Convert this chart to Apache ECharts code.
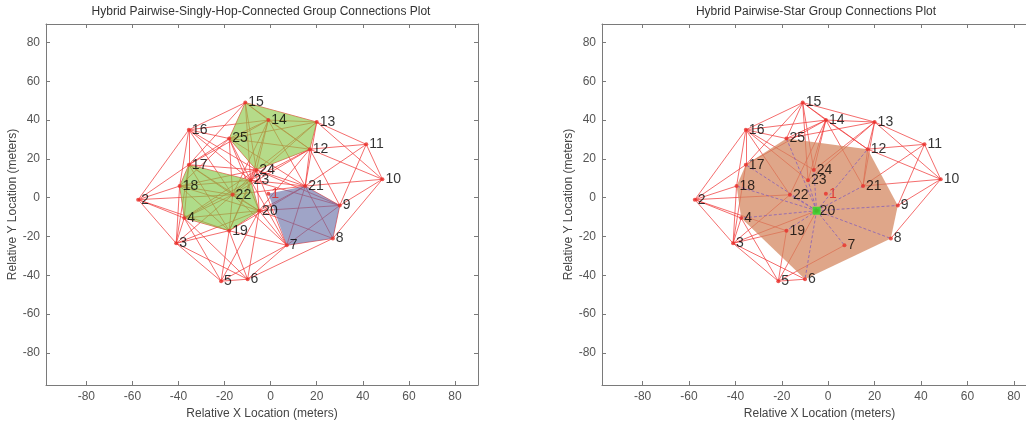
<!DOCTYPE html>
<html><head><meta charset="utf-8">
<script src="https://cdn.jsdelivr.net/npm/echarts@6/dist/echarts.min.js"></script>
<style>html,body{margin:0;padding:0;background:#fff;overflow:hidden}#c{width:1026px;height:423px}</style>
</head><body><div id="c"></div>
<script>
// ---- data ----
const nodeIds = [1,2,3,4,5,6,7,8,9,10,11,12,13,14,15,16,17,18,19,20,21,22,23,24,25];
const nodeX = [-1,-57.5,-41,-37.5,-21.5,-10,7,27,30,48.5,41.5,17,20,-1,-11,-35.5,-35.5,-39.5,-18,-5,15,-16.5,-8.7,-6.2,-18];
const nodeY = [2,-1,-23.5,-10.5,-43,-42,-24.5,-21,-4,9.5,27.5,25,39,40,49,35,17,6,-17,-6.7,6,1.5,9,14.3,30.5];
const xTicks = [-80,-60,-40,-20,0,20,40,60,80];
const yTicks = [-80,-60,-40,-20,0,20,40,60,80];
const titleLeft = 'Hybrid Pairwise-Singly-Hop-Connected Group Connections Plot';
const titleRight = 'Hybrid Pairwise-Star Group Connections Plot';
const xName = 'Relative X Location (meters)';
const yName = 'Relative Y Location (meters)';
const leftEdges = [
 [2,3],[2,4],[2,16],[2,17],[2,18],[2,19],[2,22],
 [3,4],[3,5],[3,6],[3,17],[3,18],[3,19],[3,20],[3,22],
 [4,5],[4,6],[4,17],[4,18],[4,19],[4,20],[4,22],[4,23],[4,24],
 [5,6],[5,7],[5,19],[5,20],
 [6,7],[6,8],[6,19],[6,20],
 [7,8],[7,9],[7,19],[7,20],[7,21],[7,22],[7,23],[7,24],
 [8,9],[8,10],[8,20],[8,21],
 [9,10],[9,11],[9,12],[9,20],[9,21],[9,23],[9,24],
 [10,11],[10,12],[10,13],[10,21],
 [11,12],[11,13],[11,21],
 [12,13],[12,14],[12,15],[12,20],[12,21],[12,22],[12,23],[12,24],[12,25],
 [13,14],[13,15],[13,21],[13,23],[13,24],[13,25],
 [14,15],[14,16],[14,17],[14,21],[14,22],[14,23],[14,24],[14,25],
 [15,16],[15,17],[15,23],[15,24],[15,25],
 [16,17],[16,18],[16,22],[16,23],[16,24],[16,25],
 [17,18],[17,19],[17,20],[17,22],[17,23],[17,24],[17,25],
 [18,19],[18,20],[18,22],[18,23],[18,24],[18,25],
 [19,20],[19,21],[19,22],[19,23],[19,24],
 [20,21],[20,22],[20,23],[20,24],[20,25],
 [21,22],[21,23],[21,24],[21,25],
 [22,23],[22,24],[22,25],[23,24],[23,25],[24,25]
];
const rightEdges = [
 [2,3],[2,4],[2,16],[2,17],[2,18],[2,19],[2,22],
 [3,4],[3,5],[3,6],[3,17],[3,18],[3,19],[3,20],[3,22],
 [4,5],[5,6],[5,7],[5,19],[5,20],
 [8,10],[9,10],[9,11],
 [10,11],[10,12],[10,13],[10,21],
 [11,12],[11,13],[11,21],[12,21],
 [12,13],[12,14],[12,15],
 [13,14],[13,15],[13,21],[13,23],[13,24],[13,25],
 [14,15],[14,16],[14,17],[14,21],[14,22],[14,23],[14,24],[14,25],
 [15,16],[15,17],[15,23],[15,24],[15,25],
 [16,17],[16,18],[16,22],[16,23],[16,24],[16,25]
];
const starHub = 20;
const starMembers = [4,6,7,8,9,12,17,18,19,21,22,23,24,25];
const leftGroups = [[15,13,12,24,25],[17,23,20,19,4,18],[1,21,9,8,7]];
const leftGroupColors = ['rgba(140,198,70,0.64)','rgba(130,200,70,0.64)','rgba(100,108,165,0.62)'];
const rightGroups = [[25,12,9,8,6,4,18,17]];
const rightGroupColors = ['rgba(210,132,92,0.72)'];

// ---- chart ----
const pt = id => [nodeX[id-1], nodeY[id-1]];
const axisCol = '#7a7a7a';
const font = 'Liberation Sans, Arial, sans-serif';
const grids = [
  {left:46, top:24, width:432, height:361, outerBoundsMode:'none', containLabel:false},
  {left:602, top:24, width:435, height:361, outerBoundsMode:'none', containLabel:false}
];
const xAxes = [], yAxes = [];
grids.forEach((g,i)=>{
  const common = {type:'value', gridIndex:i, min:-97.5, max:90, splitLine:{show:false},
    axisLine:{show:true, onZero:false, lineStyle:{color:axisCol, width:1}},
    axisTick:{show:true, inside:true, length:4, customValues:xTicks, lineStyle:{color:axisCol}}};
  xAxes.push(Object.assign({}, common, {position:'bottom',
    axisLabel:{show:true, customValues:xTicks, color:'#555', fontSize:12, fontFamily:font, margin:6},
    name:xName, nameLocation:'middle', nameGap:21, nameTextStyle:{color:'#444', fontSize:12, fontFamily:font}}));
  xAxes.push(Object.assign({}, common, {position:'top', axisLabel:{show:false}}));
  const cy = {type:'value', gridIndex:i, min:-96.5, max:89.5, splitLine:{show:false},
    axisLine:{show:true, onZero:false, lineStyle:{color:axisCol, width:1}},
    axisTick:{show:true, inside:true, length:4, customValues:yTicks, lineStyle:{color:axisCol}}};
  yAxes.push(Object.assign({}, cy, {position:'left',
    axisLabel:{show:true, customValues:yTicks, color:'#555', fontSize:12, fontFamily:font, margin:6},
    name:yName, nameLocation:'middle', nameGap:26, nameTextStyle:{color:'#444', fontSize:12, fontFamily:font}}));
  yAxes.push(Object.assign({}, cy, {position:'right', axisLabel:{show:false}}));
});

function edgeSeries(gi, edges, color, dashed, z){
  return {type:'lines', coordinateSystem:'cartesian2d', xAxisIndex:gi*2, yAxisIndex:gi*2, silent:true, z:z,
    data: edges.map(([a,b])=>({coords:[pt(a), pt(b)]})),
    lineStyle:{color:color, width:1, opacity:1, type: dashed ? [3,2] : 'solid'}};
}
function polySeries(gi, groups, colors){
  return {type:'custom', xAxisIndex:gi*2, yAxisIndex:gi*2, silent:true, z:2, clip:false,
    data: groups.map((g,i)=>[i]),
    renderItem:(params, api)=>{
      const g = groups[params.dataIndex];
      return {type:'polygon', shape:{points:g.map(id=>api.coord(pt(id)))},
        style:{fill:colors[params.dataIndex]}};
    }};
}
function nodeSeries(gi){
  return {type:'scatter', xAxisIndex:gi*2, yAxisIndex:gi*2, z:5, silent:true,
    symbol:'circle', symbolSize:4, itemStyle:{color:'#e8302a'},
    data: nodeIds.map((id,i)=>({value:[nodeX[i],nodeY[i]], name:String(id),
      label: id===1 ? {color:'#e02020'} : undefined})),
    label:{show:true, formatter:'{b}', position:'right', distance:1, color:'#000', fontSize:14, fontFamily:font}};
}

const series = [
  edgeSeries(0, leftEdges, 'rgba(240,60,60,0.75)', false, 1),
  polySeries(0, leftGroups, leftGroupColors),
  nodeSeries(0),
  edgeSeries(1, rightEdges, 'rgba(240,60,60,0.75)', false, 1),
  polySeries(1, rightGroups, rightGroupColors),
  edgeSeries(1, starMembers.map(m=>[starHub,m]), 'rgba(140,100,180,0.85)', true, 3),
  nodeSeries(1),
  {type:'scatter', xAxisIndex:2, yAxisIndex:2, z:6, silent:true, symbol:'rect', symbolSize:8,
   itemStyle:{color:'#22dd22'}, data:[pt(starHub)]}
];

const chart = echarts.init(document.getElementById('c'), null, {renderer:'canvas'});
chart.setOption({
  animation:false,
  backgroundColor:'#fff',
  grid: grids,
  xAxis: xAxes,
  yAxis: yAxes,
  graphic: [
    {type:'text', x:261, y:12, style:{text:titleLeft, textAlign:'center', textVerticalAlign:'middle', fontSize:12, fontFamily:font, fill:'#333'}},
    {type:'text', x:816, y:12, style:{text:titleRight, textAlign:'center', textVerticalAlign:'middle', fontSize:12, fontFamily:font, fill:'#333'}}
  ],
  series: series
});
</script></body></html>
